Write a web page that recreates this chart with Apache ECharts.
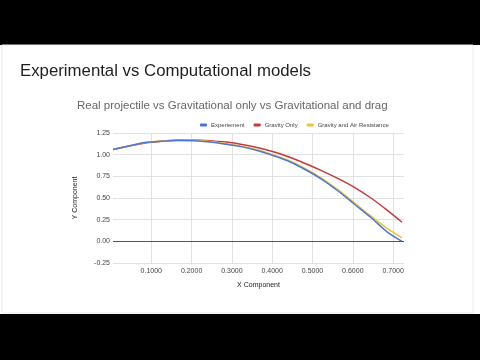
<!DOCTYPE html>
<html>
<head>
<meta charset="utf-8">
<script src="https://cdn.jsdelivr.net/npm/echarts@6/dist/echarts.min.js"></script>
<style>
  html, body { margin: 0; padding: 0; background: #000; }
  #chart { width: 480px; height: 360px; }
</style>
</head>
<body>
<div id="chart"></div>
<script>
// Horizontal position of each sample (metres)
const xComponent = [0.005, 0.045, 0.085, 0.125, 0.165, 0.205, 0.245, 0.285, 0.325, 0.365,
                    0.405, 0.445, 0.485, 0.525, 0.565, 0.605, 0.645, 0.685, 0.722];
// Measured height of the ball
const experiment = [1.06, 1.10, 1.14, 1.155, 1.163, 1.16, 1.145, 1.12, 1.09, 1.045,
                    0.985, 0.915, 0.82, 0.71, 0.575, 0.425, 0.275, 0.11, 0.00];
// Model: gravity alone
const gravityOnly = [1.06, 1.10, 1.135, 1.155, 1.168, 1.17, 1.162, 1.145, 1.118, 1.08,
                     1.03, 0.968, 0.892, 0.81, 0.72, 0.62, 0.50, 0.36, 0.22];
// Model: gravity plus drag
const gravityAir = [1.06, 1.10, 1.14, 1.157, 1.166, 1.165, 1.152, 1.128, 1.098, 1.053,
                    0.994, 0.925, 0.832, 0.722, 0.59, 0.44, 0.29, 0.15, 0.04];
const xTicks = [0.1, 0.2, 0.3, 0.4, 0.5, 0.6, 0.7];
const seriesNames = ['Experiement', 'Gravity Only', 'Gravity and Air Resistance'];

const pairs = ys => xComponent.map((x, i) => [x, ys[i]]);
const font = 'Liberation Sans, Arial, sans-serif';

const chart = echarts.init(document.getElementById('chart'), null, { renderer: 'canvas' });
chart.setOption({
  backgroundColor: '#000',
  animation: false,
  color: ['#4a78d8', '#c8383c', '#f2c230'],
  graphic: [
    { type: 'rect', z: -10, shape: { x: 0, y: 45, width: 480, height: 269 },
      style: { fill: '#ffffff' } },
    { type: 'rect', z: -9, shape: { x: 2, y: 45, width: 471, height: 268 },
      style: { fill: 'none', stroke: '#ececec', lineWidth: 1 } }
  ],
  title: [
    { text: 'Experimental vs Computational models', left: 15, top: 58,
      textStyle: { fontFamily: font, fontSize: 16.8, fontWeight: 'normal', color: '#1f1f1f' } },
    { text: 'Real projectile vs Gravitational only vs Gravitational and drag', left: 72,
      top: 95, textStyle: { fontFamily: font, fontSize: 11.5, fontWeight: 'normal', color: '#666' } }
  ],
  legend: {
    left: 195, top: 117, itemWidth: 7, itemHeight: 3, itemGap: 9, icon: 'roundRect',
    data: seriesNames,
    textStyle: { fontFamily: font, fontSize: 6, color: '#444', padding: [0, 0, 0, -1] }
  },
  grid: { left: 113, right: 76, top: 133, bottom: 97 },
  xAxis: {
    type: 'value', min: 0.005, max: 0.727,
    name: 'X Component', nameLocation: 'middle', nameGap: 19,
    nameTextStyle: { fontFamily: font, fontSize: 7, color: '#222' },
    axisLine: { show: false },
    axisTick: { show: false, customValues: xTicks },
    axisLabel: { customValues: xTicks, margin: 5, fontFamily: font, fontSize: 7, color: '#444',
                 formatter: v => v.toFixed(4) },
    splitLine: { show: true, lineStyle: { color: '#e2e2e2', width: 1 } }
  },
  yAxis: {
    type: 'value', min: -0.25, max: 1.25, interval: 0.25,
    name: 'Y Component', nameLocation: 'middle', nameGap: 34,
    nameTextStyle: { fontFamily: font, fontSize: 7, color: '#222' },
    axisLine: { show: false }, axisTick: { show: false },
    axisLabel: { margin: 3, fontFamily: font, fontSize: 7, color: '#444',
                 formatter: v => v.toFixed(2) },
    splitLine: { lineStyle: { color: '#e2e2e2', width: 1 } }
  },
  series: [
    { name: seriesNames[0], type: 'line', data: pairs(experiment), smooth: 0.3,
      showSymbol: false, lineStyle: { width: 1.5 }, z: 3,
      markLine: { silent: true, symbol: 'none', label: { show: false },
                  lineStyle: { color: '#555', type: 'solid', width: 1 },
                  data: [{ yAxis: 0 }] } },
    { name: seriesNames[1], type: 'line', data: pairs(gravityOnly), smooth: 0.3,
      showSymbol: false, lineStyle: { width: 1.5 }, z: 2 },
    { name: seriesNames[2], type: 'line', data: pairs(gravityAir), smooth: 0.3,
      showSymbol: false, lineStyle: { width: 1.5 }, z: 2 }
  ]
});
</script>
</body>
</html>
